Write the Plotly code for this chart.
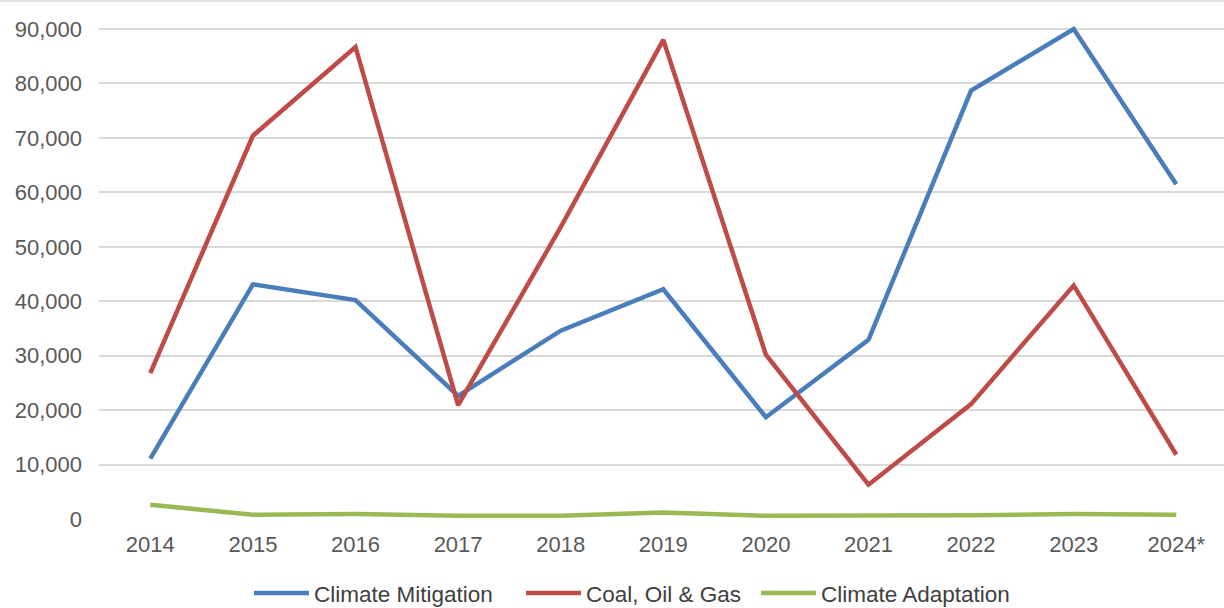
import plotly.graph_objects as go

years = ["2014", "2015", "2016", "2017", "2018", "2019", "2020", "2021", "2022", "2023", "2024*"]
climate_mitigation = [11100, 43100, 40200, 22600, 34600, 42200, 18700, 32900, 78700, 90000, 61500]
coal_oil_gas = [26800, 70400, 86700, 20900, 53600, 88000, 30200, 6300, 21100, 42900, 11800]
climate_adaptation = [2600, 800, 900, 600, 600, 1200, 600, 600, 700, 900, 800]
y_ticks = [0, 10000, 20000, 30000, 40000, 50000, 60000, 70000, 80000, 90000]

FONT = "Liberation Sans, Arial, sans-serif"

series = [
    ("Climate Mitigation", climate_mitigation, "#4A7EBB", "legend", 0.2034),
    ("Coal, Oil & Gas", coal_oil_gas, "#BE4B48", "legend2", 0.4257),
    ("Climate Adaptation", climate_adaptation, "#98B954", "legend3", 0.6176),
]

fig = go.Figure()
legend_layout = {}
for name, vals, col, lg, lx in series:
    fig.add_trace(go.Scatter(x=years, y=vals, name=name, mode="lines", legend=lg,
                             line=dict(color=col, width=4.5)))
    legend_layout[lg] = dict(orientation="h", x=lx, xanchor="left", xref="container",
                             y=0.024, yanchor="middle", yref="container",
                             font=dict(size=22.5, color="#404040"), itemwidth=55,
                             bgcolor="rgba(0,0,0,0)")

fig.update_layout(
    width=1224, height=608,
    margin=dict(l=99, r=0, t=1, b=89, autoexpand=False),
    paper_bgcolor="white", plot_bgcolor="white",
    font=dict(family=FONT, size=22, color="#595959"),
    showlegend=True,
    xaxis=dict(type="category", range=[-0.5, 10.465], showgrid=False, zeroline=False,
               showline=False, ticks="", tickfont=dict(size=22, color="#595959"),
               ticklabelstandoff=10),
    yaxis=dict(range=[0, 95150], tickvals=y_ticks, tickformat=",d",
               showgrid=True, gridcolor="#D9D9D9", gridwidth=1.5, zeroline=False,
               showline=False, ticks="", tickfont=dict(size=22, color="#595959"),
               ticklabelstandoff=16),
    shapes=[dict(type="line", xref="paper", yref="paper", x0=-99/1125, x1=1, y0=1, y1=1,
                 line=dict(color="#D9D9D9", width=1.5))],
    **legend_layout,
)

fig.write_html("out.html")
